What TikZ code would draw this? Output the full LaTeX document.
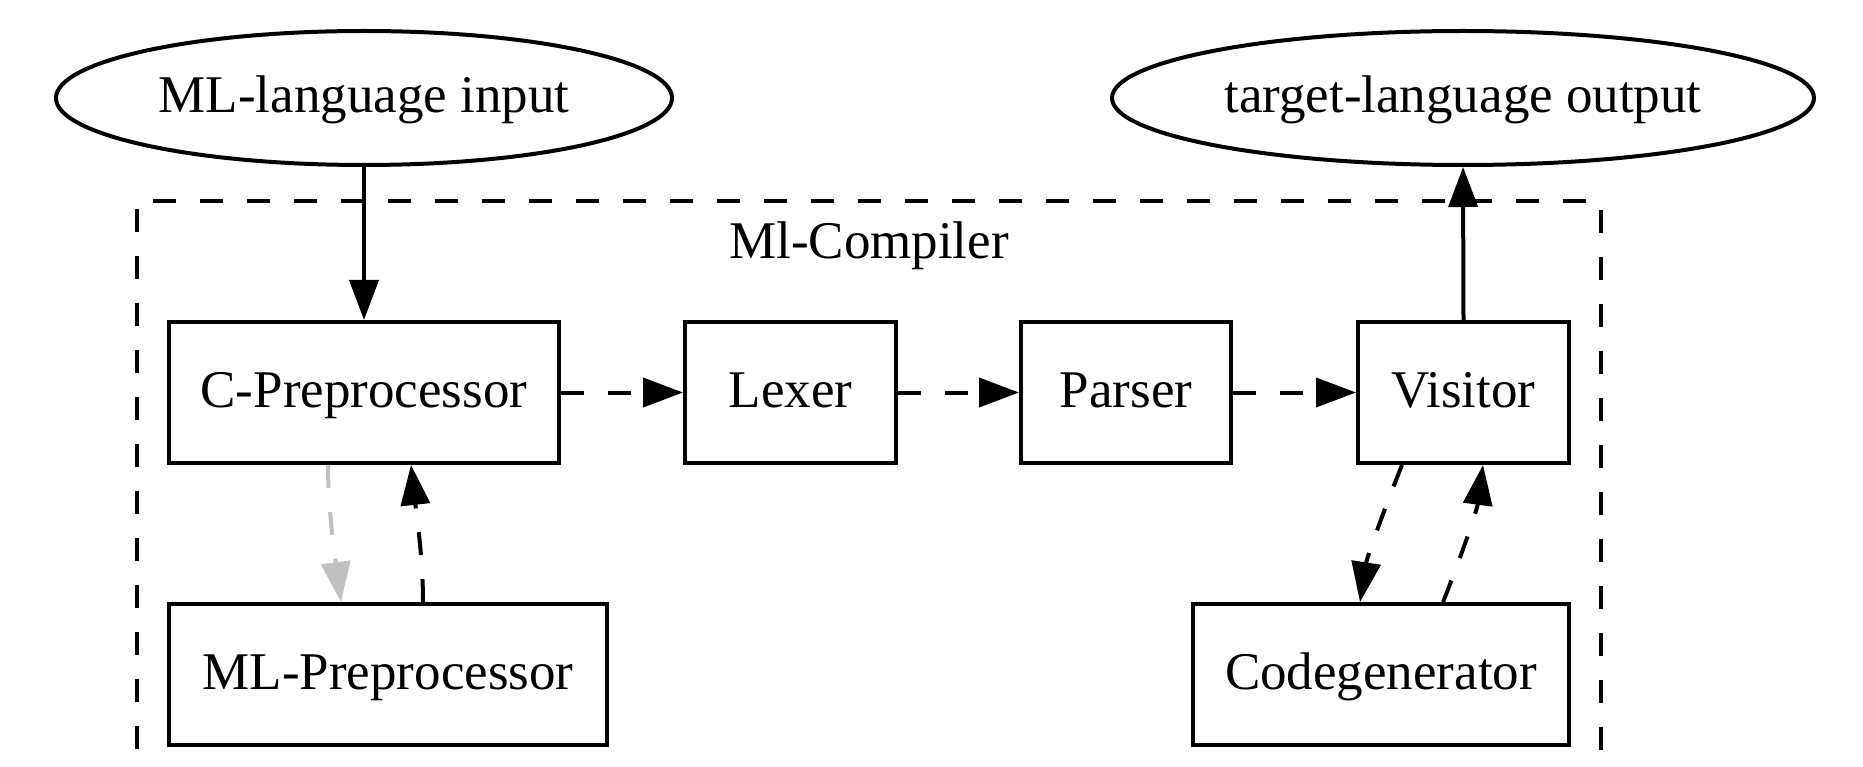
\documentclass[tikz,border=0pt]{standalone}
\usepackage{fontspec}
\setmainfont{Liberation Serif}
\usetikzlibrary{arrows.meta,shapes.geometric}

\definecolor{edgegray}{RGB}{192,192,192}

\tikzset{
  stage/.style={draw, rectangle, line width=4pt, inner sep=0pt,
    minimum height=141pt, text height=37pt, text depth=8pt},
  terminal/.style={draw, ellipse, line width=4pt, inner sep=0pt,
    minimum height=134pt, text height=37pt, text depth=8pt},
  flow/.style={line width=4pt, -{Triangle[length=40pt,width=29pt]}},
  dflow/.style={flow, dash pattern=on 23pt off 24pt},
  cluster/.style={line width=4pt, dash pattern=on 23pt off 24pt, dash phase=23pt}
}

\begin{document}
\begin{tikzpicture}[x=1pt, y=-1pt, font=\fontsize{53}{60}\selectfont]
\useasboundingbox (0,0) rectangle (1863,767);
\clip (0,0) rectangle (1863,767);

% compiler cluster (runs past the lower edge)
\draw[cluster] (137,820) -- (137,201) -- (1601,201) -- (1601,820);
\node[inner sep=0pt, text height=37pt, text depth=8pt] (clabel) at (869,244.5) {Ml-Compiler};

% input and output terminals
\node[terminal, minimum width=616pt] (input) at (364,98) {\makebox[0pt]{ML-language input}};
\node[terminal, minimum width=702pt] (output) at (1463,98) {\makebox[0pt]{target-language output}};

% pipeline stages
\node[stage, minimum width=390pt] (cpp) at (364,392.5) {C-Preprocessor};
\node[stage, minimum width=211pt] (lexer) at (790.5,392.5) {Lexer};
\node[stage, minimum width=210pt] (parser) at (1126,392.5) {Parser};
\node[stage, minimum width=211pt] (visitor) at (1463.5,392.5) {Visitor};
\node[stage, minimum width=438pt] (mlpp) at (388,674.5) {ML-Preprocessor};
\node[stage, minimum width=376pt] (codegen) at (1381,674.5) {Codegenerator};

% main flow
\draw[flow] (input.south) -- (cpp.north);
\draw[dflow] (cpp.east) -- (lexer.west);
\draw[dflow] (lexer.east) -- (parser.west);
\draw[dflow] (parser.east) -- (visitor.west);
\draw[flow] (visitor.north) -- (output.south);

% preprocessor round trip
\draw[dflow, draw=edgegray]
  ([xshift=-36pt]cpp.south) .. controls +(0,45) and +(-6,-45) .. ([xshift=-47pt]mlpp.north);
\draw[dflow]
  ([xshift=35pt]mlpp.north) .. controls +(0,-45) and +(5,45) .. ([xshift=47pt]cpp.south);

% code generation round trip
\draw[dflow]
  ([xshift=-61.5pt]visitor.south) .. controls +(-18,45) and +(7,-45) .. ([xshift=-21pt]codegen.north);
\draw[dflow]
  ([xshift=62pt]codegen.north) .. controls +(18,-45) and +(-6,45) .. ([xshift=19.5pt]visitor.south);
\end{tikzpicture}
\end{document}
